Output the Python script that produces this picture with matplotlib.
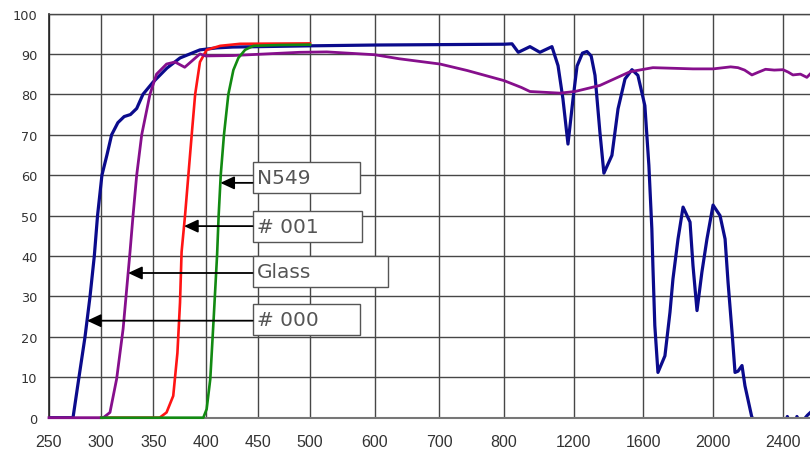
import numpy as np
import matplotlib
matplotlib.use("Agg")
import matplotlib.pyplot as plt
import matplotlib.patches as patches

# transmittance curves, wavelength (nm) vs percent
wl_000 = [250, 273, 278.7, 284.5, 289.3, 293.4, 296.5, 300.7, 305.5, 310, 316, 322, 328, 334,
          340, 349.6, 363, 375.5, 385, 394.6, 411, 426, 500, 600, 700, 800, 846, 882, 949,
          1006, 1075, 1110, 1138, 1167, 1196, 1219, 1250, 1276, 1300, 1322, 1350, 1373,
          1419, 1454, 1494, 1534, 1568, 1608, 1631, 1648, 1654, 1665, 1683, 1723, 1752,
          1769, 1798, 1827, 1867, 1884, 1907, 1935, 1964, 1999, 2039, 2068, 2085, 2108,
          2125, 2142, 2165, 2182, 2222, 2300, 2415, 2425, 2440, 2470, 2480, 2500, 2540, 2555]
tr_000 = [0, 0, 10, 20, 30, 40, 50, 60, 65, 70, 73, 74.5, 75, 76.5,
          80, 83, 86.5, 89, 90, 91, 91.5, 91.7, 92, 92.2, 92.3, 92.4, 92.5, 90.4, 91.8,
          90.4, 91.8, 87.1, 78.9, 67.7, 78.9, 87, 90.2, 90.6, 89.5, 84.7, 70.7, 60.5,
          64.9, 76.4, 83.8, 86.1, 84.7, 77.2, 62.4, 46.7, 37.6, 22.8, 11.2, 15.3, 26.1,
          34.3, 44.2, 52.1, 48.4, 37.6, 26.5, 36, 44.2, 52.6, 50, 44.2, 33.5, 21.1,
          11.2, 11.5, 12.9, 7.9, 0, -1.5, -1.5, 0.3, -1.5, -1.5, 0.3, -1.5, 0.6, 1.2]

wl_glass = [250, 302, 308.4, 314.8, 321, 327.6, 330.5, 334, 338.8, 346.7, 353, 362.6, 370.7,
            380, 394.6, 400, 426, 490, 526, 600, 638, 701, 743, 800, 900, 949, 1121, 1207,
            1350, 1523, 1654, 1884, 2000, 2100, 2142, 2180, 2222, 2260, 2300, 2350, 2400,
            2430, 2457, 2500, 2537, 2555]
tr_glass = [0, 0, 1.3, 9.6, 22, 41, 50, 60, 70, 80, 85, 87.5, 88,
            86.7, 90, 89.5, 89.6, 90.4, 90.5, 89.8, 88.8, 87.5, 85.9, 83.4, 81.7, 80.7, 80.3, 80.7,
            82.2, 85.6, 86.6, 86.3, 86.3, 86.8, 86.6, 86.0, 84.8, 85.5, 86.2, 86.0, 86.1,
            85.5, 84.8, 85.0, 84.2, 85.0]

wl_001 = [300, 356, 362.6, 369, 373, 375.5, 377, 380.3, 383.5, 386.7, 390, 394.6, 401, 414,
          433, 500]
tr_001 = [0, 0, 1.3, 5.4, 16, 28.5, 41, 50, 60, 70, 80, 88, 91, 92,
          92.5, 92.6]

wl_n549 = [300, 397.8, 401, 404.5, 407.7, 411, 412.5, 414.5, 417.6, 421.8, 426.6, 431.4,
           437.8, 445.8, 470, 500]
tr_n549 = [0, 0, 2.1, 9.6, 24.4, 40.2, 50, 60, 70, 80, 86, 89,
           91, 92, 92.2, 92.3]

x_ticks = [250, 300, 350, 400, 450, 500, 600, 700, 800, 1200, 1600, 2000, 2400]
y_ticks = list(range(0, 101, 10))

# label text, level of its arrow (%)
labels = ["N549", "# 001", "Glass", "# 000"]
label_levels = [58.1, 47.4, 35.8, 24.0]

# piecewise linear wavelength axis: 250-500 fine, 500-800 medium, 800-2400 coarse
knots_nm = [0, 250, 500, 800, 2400, 4000]
knots_u = [-261, 0, 261, 455, 734, 1013]


def fwd(x):
    return np.interp(x, knots_nm, knots_u)


def inv(u):
    return np.interp(u, knots_u, knots_nm)


def crossing(wl, tr, level):
    wl = np.asarray(wl, float)
    tr = np.asarray(tr, float)
    i = int(np.argmax(tr >= level))
    f = (level - tr[i - 1]) / (tr[i] - tr[i - 1])
    return wl[i - 1] + f * (wl[i] - wl[i - 1])


fig = plt.figure(figsize=(8.1, 4.52), dpi=100)
ax = fig.add_axes([49 / 810, 33.3 / 452, 761 / 810, 404.2 / 452])
ax.set_xscale("function", functions=(fwd, inv))
ax.set_xlim(250, 2555)
ax.set_ylim(0, 100)

grid_c = "#474747"
ax.set_xticks(x_ticks)
ax.set_xticklabels([str(v) for v in x_ticks], fontsize=11.5, family="Liberation Sans",
                   color="#333333")
ax.set_yticks(y_ticks)
ax.set_yticklabels([str(v) for v in y_ticks], fontsize=9.3, family="DejaVu Sans",
                   color="#333333")
ax.tick_params(axis="x", length=0, pad=12)
ax.tick_params(axis="y", length=0, pad=8.4)
ax.grid(True, color=grid_c, lw=1.0, zorder=0)
ax.set_axisbelow(True)
ax.spines["right"].set_visible(False)
ax.spines["top"].set_color(grid_c)
ax.spines["top"].set_linewidth(1.0)
ax.spines["left"].set_color("#222222")
ax.spines["left"].set_linewidth(1.2)
ax.spines["bottom"].set_color("#777777")
ax.spines["bottom"].set_linewidth(1.5)

c_000 = "#0b0b8c"
c_glass = "#860f8c"
c_001 = "#ff1414"
c_n549 = "#128a12"

ax.plot(wl_000, tr_000, color=c_000, lw=2.3, zorder=2)
ax.plot(wl_001, tr_001, color=c_001, lw=1.9, zorder=3, clip_on=False)
ax.plot(wl_glass, tr_glass, color=c_glass, lw=2.0, zorder=4, clip_on=False)
ax.plot(wl_n549, tr_n549, color=c_n549, lw=1.9, zorder=5, clip_on=False)

# label boxes with arrows pointing to the curves
curves = [(wl_n549, tr_n549), (wl_001, tr_001), (wl_glass, tr_glass), (wl_000, tr_000)]
box_left = 445
box_right = [578, 580, 620, 578]
box_bottom = [55.6, 43.5, 32.3, 20.5]
box_h = 7.7

for text, level, (wl, tr), right, bottom in zip(labels, label_levels, curves,
                                                 box_right, box_bottom):
    rect = patches.Rectangle((box_left, bottom), right - box_left, box_h,
                             facecolor="white", edgecolor="#555555", lw=1.0, zorder=6)
    ax.add_patch(rect)
    ax.text(box_left + 4, bottom + box_h / 2, text, fontsize=14.5,
            family="DejaVu Sans", color="#555555",
            ha="left", va="center", zorder=7)
    tip = crossing(wl, tr, level)
    ax.annotate("", xy=(tip, level), xytext=(box_left, level),
                arrowprops=dict(arrowstyle="-|>,head_length=0.6,head_width=0.28",
                                color="black", lw=1.3, mutation_scale=14,
                                shrinkA=0, shrinkB=0),
                zorder=8)

fig.savefig("out.png", dpi=100)
